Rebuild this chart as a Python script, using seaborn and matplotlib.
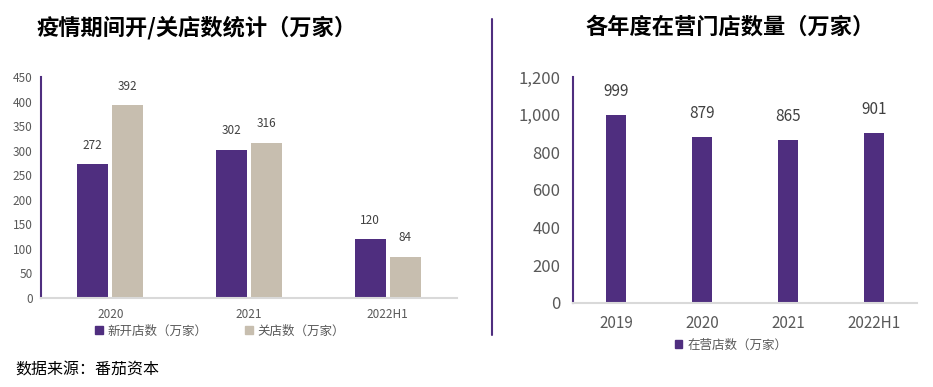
import pandas as pd
import matplotlib
matplotlib.use('Agg')
import matplotlib.pyplot as plt
from matplotlib.lines import Line2D
from matplotlib.patches import Patch
from matplotlib.ticker import StrMethodFormatter
import seaborn as sns

# data
open_close_years = ['2020', '2021', '2022H1']
new_open = [272, 302, 120]
closed = [392, 316, 84]
series_names = ['新开店数（万家）', '关店数（万家）']

store_years = ['2019', '2020', '2021', '2022H1']
store_counts = [999, 879, 865, 901]

purple = '#4F2E7F'
beige = '#C7BEAF'
grey_text = '#595959'

sns.set_style('white')
plt.rcParams['font.family'] = ['Noto Sans CJK SC', 'DejaVu Sans']

fig = plt.figure(figsize=(9.33, 3.87), dpi=100)

#Left: open / close

df = pd.DataFrame({
    'year': open_close_years * 2,
    'value': new_open + closed,
    'series': [series_names[0]] * 3 + [series_names[1]] * 3,
})

ax1 = fig.add_axes([0.0439, 0.2300, 0.4459, 0.5710])
sns.barplot(data=df, x='year', y='value', hue='series', palette=[purple, beige],
            width=0.504, gap=0.115, saturation=1, linewidth=0, ax=ax1)
ax1.set_xlim(-0.5, 2.5)
ax1.set_ylim(0, 450)
ax1.set_yticks(range(0, 451, 50))
ax1.set_xlabel('')
ax1.set_ylabel('')
for c in ax1.containers:
    ax1.bar_label(c, padding=9, fontsize=8.5, color='#404040')

ax1.legend(handles=[Patch(color=purple), Patch(color=beige)], labels=series_names,
           ncol=2, loc='center', bbox_to_anchor=(220 / 933, 0.1447), bbox_transform=fig.transFigure,
           frameon=False, fontsize=9, handlelength=0.6, handleheight=0.6,
           handletextpad=0.4, columnspacing=3.0, labelcolor=grey_text)

ax1.tick_params(axis='y', direction='in', length=4, width=1.2, color=purple,
                labelsize=8.5, labelcolor=grey_text, pad=6)
ax1.tick_params(axis='x', length=0, labelsize=8.5, labelcolor=grey_text, pad=7)
ax1.spines['top'].set_visible(False)
ax1.spines['right'].set_visible(False)
ax1.spines['left'].set_color(purple)
ax1.spines['left'].set_linewidth(1.5)
ax1.spines['bottom'].set_color('#D9D9D9')
ax1.spines['bottom'].set_linewidth(1.5)

#Right: stores in operation

ax2 = fig.add_axes([0.6141, 0.2171, 0.3687, 0.5839])
sns.barplot(x=store_years, y=store_counts, color=purple, width=0.23,
            saturation=1, linewidth=0, ax=ax2)
ax2.set_xlim(-0.5, 3.5)
ax2.set_ylim(0, 1200)
ax2.set_yticks(range(0, 1201, 200))
ax2.yaxis.set_major_formatter(StrMethodFormatter('{x:,.0f}'))
for c in ax2.containers:
    ax2.bar_label(c, padding=11, fontsize=11, color='#404040')

ax2.legend(handles=[Patch(color=purple)], labels=['在营店数（万家）'],
           loc='center', bbox_to_anchor=(731 / 933, 0.1085), bbox_transform=fig.transFigure,
           frameon=False, fontsize=9, handlelength=0.6, handleheight=0.6,
           handletextpad=0.4, labelcolor=grey_text)

ax2.tick_params(axis='y', direction='in', length=6, width=1.5, color=purple,
                labelsize=12, labelcolor=grey_text, pad=9)
ax2.tick_params(axis='x', length=0, labelsize=11, labelcolor=grey_text, pad=9)
ax2.spines['top'].set_visible(False)
ax2.spines['right'].set_visible(False)
ax2.spines['left'].set_color(purple)
ax2.spines['left'].set_linewidth(1.5)
ax2.spines['bottom'].set_color('#D9D9D9')
ax2.spines['bottom'].set_linewidth(1.5)

#Titles, divider, source

fig.text(197 / 933, 1 - 28 / 387, '疫情期间开/关店数统计（万家）', ha='center', va='center',
         fontsize=16, fontweight='bold', color='black')
fig.text(730 / 933, 1 - 27 / 387, '各年度在营门店数量（万家）', ha='center', va='center',
         fontsize=16, fontweight='bold', color='black')
fig.add_artist(Line2D([492 / 933, 492 / 933], [1 - 19 / 387, 1 - 335 / 387],
                      transform=fig.transFigure, color=purple, linewidth=1.5))
fig.text(15 / 933, 1 - 370 / 387, '数据来源：番茄资本', ha='left', va='center',
         fontsize=11.5, color='black')

fig.savefig('out.png', dpi=100)
